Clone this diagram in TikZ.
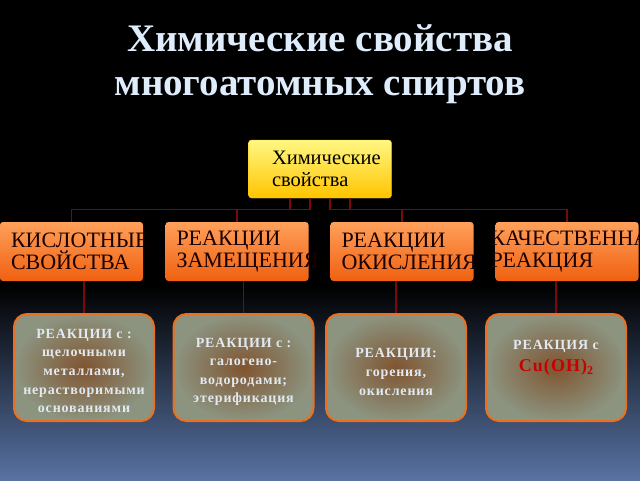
\documentclass[tikz,border=0pt]{standalone}
\usepackage{fontspec}
\setmainfont{Liberation Serif}
\usepackage{xcolor}
\usepackage{tikz}
\usetikzlibrary{positioning, calc}

\definecolor{bgblue}{RGB}{88,114,162}
\definecolor{titlecol}{RGB}{222,236,252}
\definecolor{linkred}{RGB}{120,10,10}
\definecolor{orangetop}{RGB}{255,160,90}
\definecolor{orangebot}{RGB}{240,96,16}
\definecolor{yellowtop}{RGB}{255,248,130}
\definecolor{yellowbot}{RGB}{255,196,0}
\definecolor{boxinner}{RGB}{128,84,48}
\definecolor{boxouter}{RGB}{140,148,128}
\definecolor{boxedge}{RGB}{232,112,32}
\definecolor{leaftext}{RGB}{225,234,242}
\definecolor{cured}{RGB}{200,0,0}

\begin{document}
\begin{tikzpicture}[
    x=1pt, y=-1pt,
    rootbox/.style={rectangle, rounded corners=3pt, minimum width=143pt, minimum height=58pt, top color=yellowtop, bottom color=yellowbot, draw=yellow!60!orange, text=black, font=\fontsize{20.5}{22}\selectfont, align=left, text width=96pt, inner xsep=23.5pt, inner ysep=0pt},
    catbox/.style={rectangle, rounded corners=3pt, minimum width=143pt, minimum height=59pt, top color=orangetop, bottom color=orangebot, draw=none, text=black!90!red, font=\fontsize{22}{22}\selectfont, align=left, text width=121pt, inner xsep=11pt, inner ysep=0pt},
    leafbox/.style={rectangle, rounded corners=13pt, minimum width=140pt, minimum height=107pt, inner color=boxinner, outer color=boxouter, draw=boxedge, line width=2pt, text=leaftext, font=\fontsize{14}{18.6}\bfseries\addfontfeatures{LetterSpace=6}, align=center, inner sep=0pt},
    link/.style={draw=linkred, line width=1.4pt}
]

% background
\fill[black] (0,0) rectangle (640,480);
\shade[top color=black, bottom color=bgblue] (0,285) rectangle (640,480);

% title
\node[text=titlecol, font=\fontsize{39}{44}\bfseries\selectfont, align=center] (title) at (320,64) {Химические свойства\\многоатомных спиртов};

% tree
\node[rootbox] (chem) at (320,169) {Химические\\свойства};

\node[catbox] (acid) at (71.5,251.5) {КИСЛОТНЫЕ\\СВОЙСТВА};
\node[catbox] (subst) at (237,251.5) {РЕАКЦИИ\\ЗАМЕЩЕНИЯ};
\node[catbox] (oxid) at (402,251.5) {РЕАКЦИИ\\ОКИСЛЕНИЯ};
\node[catbox, text width=153pt, inner xsep=-5pt] (qual) at (567,251.5) {КАЧЕСТВЕННАЯ\\РЕАКЦИЯ};

\node[leafbox] (acidr) at (84,367.5) {\rule{0pt}{16pt}РЕАКЦИИ с :\\щелочными\\металлами,\\нерастворимыми\\основаниями};
\node[leafbox] (substr) at (243.5,367.5) {\rule{0pt}{18pt}РЕАКЦИИ с :\\галогено-\\водородами;\\этерификация};
\node[leafbox] (oxidr) at (396,367.5) {\rule{0pt}{18pt}РЕАКЦИИ:\\горения,\\окисления};
\node[leafbox] (qualr) at (556,367.5) {РЕАКЦИЯ с\\[4pt]{\color{cured}\fontsize{18}{22}\selectfont Cu(OH)\raisebox{-3pt}{\fontsize{12}{12}\selectfont 2}}\\[5pt]};

% connectors
\draw[link] ([xshift=-30pt]chem.south) -- ++(0,11) -| (acid.north);
\draw[link] ([xshift=-10pt]chem.south) -- ++(0,11) -| (subst.north);
\draw[link] ([xshift=10pt]chem.south) -- ++(0,11) -| (oxid.north);
\draw[link] ([xshift=30pt]chem.south) -- ++(0,11) -| (qual.north);

\draw[link] (acid.south -| acidr.north) -- (acidr.north);
\draw[link] (subst.south -| substr.north) -- (substr.north);
\draw[link] (oxid.south -| oxidr.north) -- (oxidr.north);
\draw[link] (qual.south -| qualr.north) -- (qualr.north);

\useasboundingbox (0,0) rectangle (640,480);
\end{tikzpicture}
\end{document}
